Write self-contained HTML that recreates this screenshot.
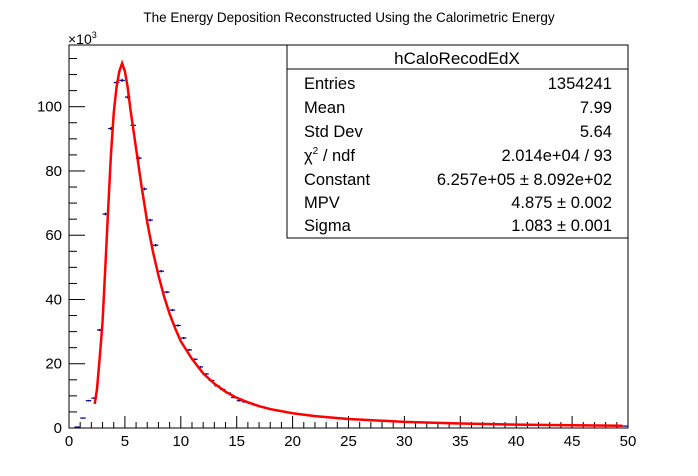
<!DOCTYPE html>
<html><head><meta charset="utf-8">
<style>
body{margin:0;background:#fff;}
svg{display:block;font-family:"Liberation Sans",Arial,sans-serif;}
</style></head>
<body>
<svg id="chart" width="698" height="476" viewBox="0 0 698 476">
<rect width="698" height="476" fill="#fff"/>
<text x="349" y="22" text-anchor="middle" font-size="13.5">The Energy Deposition Reconstructed Using the Calorimetric Energy</text>
<text x="68" y="44" font-size="14">×10<tspan font-size="9" dy="-6">3</tspan></text>
<rect x="69" y="45" width="559" height="383" fill="none" stroke="#000" stroke-width="1"/>
<g id="axes"></g>
<g id="hist"></g>
<polyline id="fit" fill="none" stroke="#ff0000" stroke-width="2.5"/>
<g>
<rect x="287" y="45" width="341" height="193" fill="#fff" stroke="#000"/>
<line x1="287" y1="69" x2="628" y2="69" stroke="#000"/>
<text x="457" y="64" text-anchor="middle" font-size="17">hCaloRecodEdX</text>
<g font-size="16.5">
<text x="304" y="89">Entries</text><text x="612" y="89" text-anchor="end">1354241</text>
<text x="304" y="113">Mean</text><text x="612" y="113" text-anchor="end">7.99</text>
<text x="304" y="137">Std Dev</text><text x="612" y="137" text-anchor="end">5.64</text>
<text x="304" y="161">χ<tspan font-size="10" dy="-7">2</tspan><tspan dy="7"> / ndf</tspan></text><text x="612" y="161" text-anchor="end">2.014e+04 / 93</text>
<text x="304" y="185">Constant</text><text x="612" y="185" text-anchor="end">6.257e+05 ± 8.092e+02</text>
<text x="304" y="208">MPV</text><text x="612" y="208" text-anchor="end">4.875 ± 0.002</text>
<text x="304" y="231">Sigma</text><text x="612" y="231" text-anchor="end">1.083 ± 0.001</text>
</g>
</g>
</svg>
<script>
const binWidth = 0.5;
const counts = [0,0.3,3.1,8.5,9.3,30.5,66.6,93.2,107.5,108.2,103,94.2,84,74.4,64.7,56.9,48.8,42.3,36.7,31.9,28.0,24.3,21.4,19.0,16.8,14.8,13.1,12.0,10.9,9.5,8.5,8.1,
7.6,7.1,6.6,6.1,5.7,5.3,5.0,4.7,4.4,4.2,4.0,3.8,3.6,3.4,3.2,3.1,2.9,2.8,2.7,2.6,2.5,2.4,2.3,2.2,2.1,2.0,1.95,1.9,1.85,1.8,1.7,1.65,1.6,1.55,1.5,1.45,1.4,1.35,1.3,1.3,1.25,1.2,1.15,1.1,1.1,1.05,1.0,1.0,0.95,0.95,0.9,0.9,0.85,0.85,0.8,0.8,0.8,0.75,0.75,0.7,0.7,0.7,0.65,0.65,0.65,0.6,0.6,0.6];
const fitX = [2.3,2.5,2.75,3,3.25,3.5,3.75,4,4.25,4.5,4.75,5,5.25,5.5,6,6.5,7,7.5,8,8.5,9,9.5,10,11,12,13,14,15,16,17,18,20,22,25,30,35,40,45,49.5];
const fitY = [7.5,12,22,33,50,68,85,98,106,111,113.5,111,106,99,87,75,64,55,47.5,41,35.5,31,27,21.5,17,13.8,11.3,9.4,8,6.8,5.9,4.6,3.7,2.8,1.9,1.4,1.05,0.85,0.7];
const xTicks = [0,5,10,15,20,25,30,35,40,45,50];
const yTicks = [0,20,40,60,80,100];

const X0=69,X1=628,Y0=428,Y1=45;
const sx = v => X0 + (v-0)/(50-0)*(X1-X0);
const sy = v => Y0 - v*3.213;
const NS='http://www.w3.org/2000/svg';
function mk(tag, attrs, parent){const e=document.createElementNS(NS,tag);for(const k in attrs)e.setAttribute(k,attrs[k]);parent.appendChild(e);return e;}
const axes=document.getElementById('axes');
// x ticks
for(let v=0;v<=50;v+=1){
  const major=v%5===0;
  const t=mk('line',{x1:sx(v),x2:sx(v),y1:Y0,y2:Y0-(major?12:6),stroke:'#000'},axes);
  
  
}
xTicks.forEach(v=>{
  const t=mk('text',{x:sx(v),y:446,'text-anchor':'middle','font-size':'15'},axes);
  t.textContent=v;
  
  
});
for(let v=0;v<=115;v+=5){
  const major=v%20===0;
  const t=mk('line',{x1:X0,x2:X0+(major?16:8),y1:sy(v),y2:sy(v),stroke:'#000'},axes);
  
  
}
yTicks.forEach(v=>{
  const t=mk('text',{x:62,y:sy(v)+5,'text-anchor':'end','font-size':'15'},axes);
  t.textContent=v;
  
  
});
// histogram markers
const hist=document.getElementById('hist');
counts.forEach((c,i)=>{
  if(c<=0) return;
  const xa=sx(i*binWidth), xb=sx((i+1)*binWidth), y=sy(c);
  const err=Math.sqrt(c*1000)/1000;
  const g=mk('g',{stroke:'#00008b','stroke-width':'1.2'},hist);
  
  
  mk('line',{x1:xa,x2:xb,y1:y,y2:y},g);
  mk('line',{x1:(xa+xb)/2,x2:(xa+xb)/2,y1:sy(c+err)-0.5,y2:sy(c-err)+0.5},g);
});
document.getElementById('fit').setAttribute('points',fitX.map((x,i)=>sx(x)+','+sy(fitY[i])).join(' '));
</script>
</body></html>
